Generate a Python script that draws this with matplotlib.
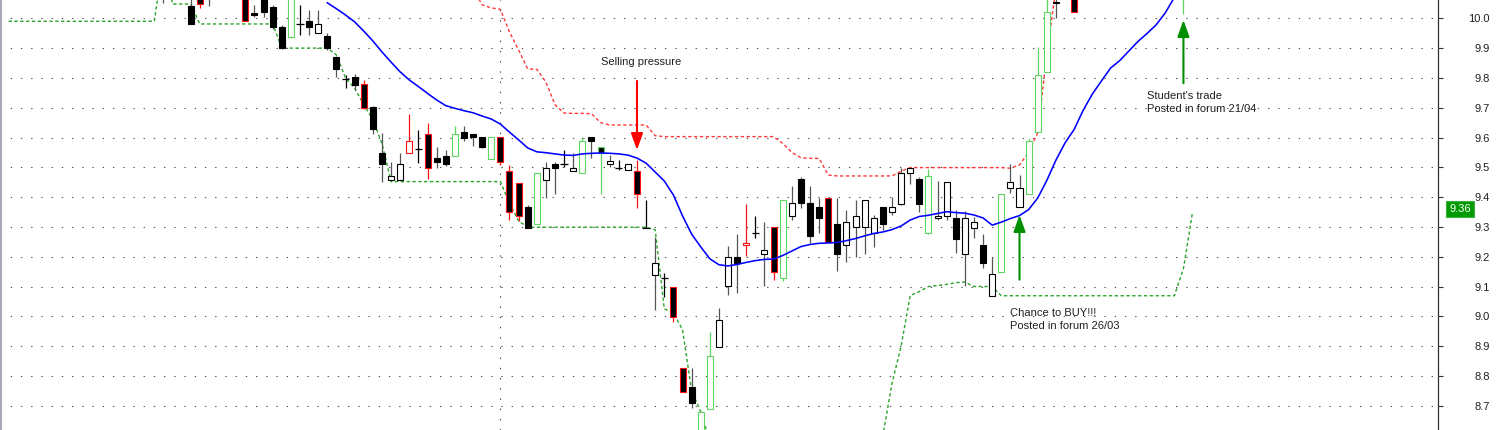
import numpy as np
import matplotlib
matplotlib.use('Agg')
import matplotlib.pyplot as plt
from matplotlib.transforms import blended_transform_factory

plt.rcParams['font.family'] = ['Liberation Sans', 'DejaVu Sans']

nan = np.nan

# candles, one per trading day, index 0 = first full candle near the top left
candle_start = -3
opens = [10.12, nan, nan, 10.04, 10.065, 10.09, nan, nan, nan, 10.12,
         10.019, 10.08, 10.039, 9.972, 9.938, 9.98, 9.99, 9.95, 9.942, 9.869,
         9.796, 9.803, 9.779, 9.701, 9.549, 9.457, 9.457, 9.547, 9.56, 9.611,
         9.53, 9.539, 9.538, 9.619, 9.611, 9.601, 9.528, 9.601, 9.489, 9.448,
         9.368, 9.309, 9.457, 9.51, 9.511, 9.488, 9.48, 9.601, 9.569, 9.511,
         9.497, 9.491, 9.489, 9.297, 9.139, 9.128, 9.10, 8.828, 8.762, 8.58,
         8.689, 8.898, 9.102, 9.198, 9.238, 9.28, 9.208, 9.299, 9.128, 9.338,
         9.46, 9.379, 9.368, 9.398, 9.31, 9.239, 9.299, 9.299, 9.279, 9.368,
         9.349, 9.377, 9.48, 9.46, 9.279, 9.329, 9.337, 9.329, 9.208, 9.297,
         9.239, 9.069, 9.148, 9.432, 9.368, 9.409, 9.617, 9.819, 10.055, nan,
         10.12, nan, nan, nan, nan, nan, nan, nan, nan, nan,
         nan, nan, 10.08]
highs = [10.15, nan, nan, 10.09, 10.10, 10.12, nan, nan, nan, 10.14,
         10.045, 10.09, 10.045, 9.978, 10.10, 10.046, 10.028, 10.028, 9.95, 9.875,
         9.81, 9.813, 9.793, 9.705, 9.614, 9.519, 9.547, 9.679, 9.625, 9.648,
         9.569, 9.558, 9.639, 9.639, 9.611, 9.601, 9.601, 9.601, 9.508, 9.448,
         9.373, 9.48, 9.519, 9.519, 9.558, 9.547, 9.603, 9.601, 9.569, 9.541,
         9.524, 9.51, 9.524, 9.39, 9.267, 9.144, 9.10, 8.828, 8.828, 8.68,
         8.948, 9.027, 9.236, 9.276, 9.377, 9.337, 9.317, 9.299, 9.39, 9.437,
         9.468, 9.437, 9.398, 9.398, 9.396, 9.357, 9.39, 9.39, 9.34, 9.368,
         9.399, 9.497, 9.499, 9.466, 9.493, 9.454, 9.45, 9.357, 9.354, 9.334,
         9.276, 9.198, 9.409, 9.51, 9.474, 9.60, 9.905, 10.10, 10.10, nan,
         10.14, nan, nan, nan, nan, nan, nan, nan, nan, nan,
         nan, nan, 10.17]
lows = [10.05, nan, nan, 9.98, 10.033, 10.04, nan, nan, nan, 9.99,
        10.003, 10.003, 9.965, 9.898, 9.935, 9.944, 9.944, 9.95, 9.894, 9.802,
        9.765, 9.759, 9.695, 9.612, 9.452, 9.457, 9.457, 9.547, 9.513, 9.46,
        9.496, 9.505, 9.538, 9.589, 9.571, 9.564, 9.528, 9.508, 9.323, 9.321,
        9.297, 9.309, 9.398, 9.41, 9.502, 9.488, 9.48, 9.53, 9.41, 9.502,
        9.491, 9.491, 9.362, 9.297, 9.021, 9.066, 8.982, 8.745, 8.691, 8.56,
        8.689, 8.898, 9.071, 9.079, 9.202, 9.262, 9.102, 9.122, 9.12, 9.323,
        9.362, 9.245, 9.279, 9.25, 9.153, 9.183, 9.198, 9.209, 9.232, 9.29,
        9.34, 9.373, 9.443, 9.351, 9.275, 9.323, 9.323, 9.211, 9.103, 9.262,
        9.161, 9.069, 9.148, 9.413, 9.368, 9.409, 9.617, 9.819, 10.0, nan,
        10.02, nan, nan, nan, nan, nan, nan, nan, nan, nan,
        nan, nan, 10.014]
closes = [10.10, nan, nan, 9.981, 10.048, 10.08, nan, nan, nan, 9.99,
          10.01, 10.02, 9.972, 9.90, 10.08, 9.98, 9.97, 9.981, 9.90, 9.829,
          9.796, 9.776, 9.699, 9.628, 9.511, 9.471, 9.511, 9.587, 9.56, 9.498,
          9.519, 9.51, 9.611, 9.599, 9.601, 9.569, 9.601, 9.517, 9.351, 9.338,
          9.297, 9.48, 9.499, 9.498, 9.511, 9.499, 9.588, 9.588, 9.549, 9.521,
          9.497, 9.51, 9.409, 9.297, 9.18, 9.128, 8.999, 8.747, 8.708, 8.68,
          8.868, 8.988, 9.198, 9.18, 9.247, 9.28, 9.222, 9.15, 9.39, 9.379,
          9.379, 9.27, 9.329, 9.25, 9.208, 9.317, 9.338, 9.39, 9.329, 9.31,
          9.368, 9.48, 9.499, 9.377, 9.471, 9.338, 9.45, 9.259, 9.329, 9.317,
          9.18, 9.141, 9.409, 9.45, 9.43, 9.588, 9.81, 10.02, 10.052, nan,
          10.02, nan, nan, nan, nan, nan, nan, nan, nan, nan,
          nan, nan, 10.15]
# outline colour of each candle: k plain, r red signal, g green signal
outline = list('kkkkrkkkkr' 'kkkkgkkkkk' 'kkrkkkkrkr' 'kkgkkkgrrr' 'kgkkkkgkgk'
               'kkrkkkrrkg' 'gkkkrkkrgk' 'kkkrkkkkkk' 'kkkkgkkkkk' 'kkgkkgggkk'
               'rkkkkkkkkk' 'kkg')

# lower band (green), upper band (red), moving average (blue)
green_start = -20
green_band = [9.99, 9.99, 9.99, 9.99, 9.99, 9.99, 9.99, 9.99, 9.99, 9.99,
              9.99, 9.99, 9.99, 9.99, 9.99, 9.99, 9.99, 10.2, 10.048, 10.048,
              10.048, 9.981, 9.981, 9.981, 9.981, 9.981, 9.981, 9.981, 9.981, 9.981,
              9.9, 9.9, 9.9, 9.9, 9.9, 9.9, 9.877, 9.8, 9.765, 9.71,
              9.66, 9.58, 9.452, 9.452, 9.452, 9.452, 9.452, 9.452, 9.452, 9.452,
              9.452, 9.452, 9.452, 9.452, 9.452, 9.38, 9.32, 9.299, 9.299, 9.299,
              9.299, 9.299, 9.299, 9.299, 9.299, 9.299, 9.299, 9.299, 9.299, 9.299,
              9.299, 9.29, 9.025, 9.012, 8.955, 8.75, 8.68, 8.58, nan, nan,
              nan, nan, nan, nan, nan, nan, nan, nan, nan, nan,
              nan, nan, nan, nan, nan, nan, 8.6, 8.775, 8.9, 9.07,
              9.083, 9.1, 9.103, 9.107, 9.113, 9.115, 9.1, 9.1, 9.1, 9.069,
              9.069, 9.069, 9.069, 9.069, 9.069, 9.069, 9.069, 9.069, 9.069, 9.069,
              9.069, 9.069, 9.069, 9.069, 9.069, 9.069, 9.069, 9.069, 9.069, 9.16,
              9.35]
red_start = 31
red_band = [10.1, 10.045, 10.035, 10.03, 9.954, 9.894, 9.83, 9.829, 9.786, 9.71,
            9.682, 9.681, 9.681, 9.68, 9.65, 9.642, 9.642, 9.642, 9.642, 9.642,
            9.606, 9.603, 9.603, 9.603, 9.603, 9.603, 9.603, 9.603, 9.603, 9.603,
            9.603, 9.603, 9.603, 9.603, 9.58, 9.55, 9.532, 9.53, 9.53, 9.474,
            9.471, 9.471, 9.471, 9.471, 9.471, 9.471, 9.471, 9.487, 9.499, 9.499,
            9.499, 9.499, 9.499, 9.499, 9.499, 9.499, 9.499, 9.499, 9.499, 9.497,
            9.508, 9.55, 9.616, 9.88, 10.1]
ma_start = 15
ma = [10.052, 10.032, 10.011, 9.988, 9.957, 9.924, 9.887, 9.853, 9.82, 9.793,
      9.771, 9.748, 9.726, 9.707, 9.698, 9.69, 9.683, 9.672, 9.662, 9.645,
      9.618, 9.592, 9.565, 9.552, 9.549, 9.545, 9.541, 9.54, 9.545, 9.547,
      9.548, 9.547, 9.545, 9.541, 9.531, 9.514, 9.484, 9.454, 9.407, 9.337,
      9.276, 9.233, 9.193, 9.173, 9.169, 9.174, 9.181, 9.187, 9.191, 9.192,
      9.204, 9.219, 9.234, 9.241, 9.245, 9.246, 9.248, 9.254, 9.261, 9.27,
      9.278, 9.283, 9.291, 9.303, 9.323, 9.335, 9.339, 9.345, 9.351, 9.348,
      9.346, 9.34, 9.33, 9.306, 9.316, 9.328, 9.338, 9.358, 9.397, 9.456,
      9.524, 9.582, 9.627, 9.692, 9.746, 9.79, 9.833, 9.858, 9.89, 9.922,
      9.949, 9.978, 10.018, 10.07]

month_start = 34
last_price = 9.36
price_ticks = [8.7, 8.8, 8.9, 9.0, 9.1, 9.2, 9.3, 9.4, 9.5, 9.6, 9.7, 9.8, 9.9, 10.0]

# annotations: (candle index, arrow base, arrow tip)
sell_arrow = (49, 9.79, 9.558)
buy_arrow = (91, 9.123, 9.34)
trade_arrow = (109, 9.782, 9.994)

edge_col = {'k': '#000000', 'r': '#ff1010', 'g': '#5fd65f'}
wick_col = {'k': '#555555', 'r': '#ff1010', 'g': '#5fd65f'}

fig = plt.figure(figsize=(15, 4.3), dpi=100)
ax = fig.add_axes([0, 0, 1438 / 1500, 1])
ax.set_xlim(-20.94, 136.95)
ax.set_ylim(8.6185, 10.0614)

for p in price_ticks:
    ax.axhline(p, color='#505050', lw=0.8, ls=(0, (1.2, 8)), zorder=1)
ax.axvline(month_start, color='#404040', lw=0.8, ls=(0, (1.2, 8)), zorder=1)

gx = np.arange(green_start, green_start + len(green_band))
ax.plot(gx, green_band, color='#2aa52a', lw=1.0, ls=(0, (2.4, 1.8)), zorder=2)
rx = np.arange(red_start, red_start + len(red_band))
ax.plot(rx, red_band, color='#ff3a3a', lw=1.0, ls=(0, (2.4, 1.8)), zorder=2)

x = np.arange(candle_start, candle_start + len(opens))
o = np.array(opens)
h = np.array(highs)
lo = np.array(lows)
c = np.array(closes)
for i in range(len(x)):
    if np.isnan(o[i]):
        continue
    kind = outline[i]
    if abs(c[i] - o[i]) < 1e-9:
        col = '#000000' if kind == 'k' else edge_col[kind]
        ax.vlines(x[i], lo[i], h[i], color=col, lw=0.9, zorder=3)
        ax.hlines(o[i], x[i] - 0.4, x[i] + 0.4, color=col, lw=0.9, zorder=4)
        continue
    ax.vlines(x[i], lo[i], h[i], color=wick_col[kind], lw=0.9, zorder=3)
    face = 'black' if c[i] < o[i] else 'white'
    ax.bar(x[i], abs(c[i] - o[i]), bottom=min(o[i], c[i]), width=0.66,
           facecolor=face, edgecolor=edge_col[kind], lw=0.8, zorder=4)

mx = np.arange(ma_start, ma_start + len(ma))
ax.plot(mx, ma, color='#0000ff', lw=1.15, zorder=5)

def arrow(spec, color):
    xi, base, tip = spec
    ax.annotate('', xy=(xi, tip), xytext=(xi, base),
                arrowprops=dict(arrowstyle='-|>,head_length=1.0,head_width=0.36',
                                mutation_scale=10, color=color, lw=1.5,
                                shrinkA=0, shrinkB=0), zorder=6)

arrow(sell_arrow, '#ff0000')
arrow(buy_arrow, '#008f00')
arrow(trade_arrow, '#008f00')

txt = dict(fontsize=8, color='#202020', va='center', ha='left', zorder=7)
ax.text(45, 9.853, 'Selling pressure', **txt)
ax.text(90, 9.011, 'Chance to BUY!!!', **txt)
ax.text(90, 8.968, 'Posted in forum 26/03', **txt)
ax.text(105, 9.74, "Student's trade", **txt)
ax.text(105, 9.697, 'Posted in forum 21/04', **txt)

trans = blended_transform_factory(ax.transAxes, ax.transData)
ax.text(1460 / 1438, last_price, f'{last_price:.2f}', transform=trans,
        ha='center', va='center', color='white', fontsize=8,
        bbox=dict(boxstyle='square,pad=0.25', fc='#009a00', ec='#3fb03f', lw=0.8))

ax.set_xticks([])
ax.set_yticks(price_ticks)
ax.set_yticklabels([f'{p:.1f}' for p in price_ticks])
ax.yaxis.tick_right()
ax.tick_params(axis='y', direction='out', length=3.5, width=0.8, color='#333333',
               pad=34, labelsize=8, labelcolor='#202020')
plt.setp(ax.get_yticklabels(), ha='right')

ax.spines['top'].set_visible(False)
ax.spines['bottom'].set_visible(False)
ax.spines['left'].set_color('#a8a8b8')
ax.spines['left'].set_linewidth(2.2)
ax.spines['right'].set_color('#333333')
ax.spines['right'].set_linewidth(0.9)

fig.savefig('out.png', dpi=100)
